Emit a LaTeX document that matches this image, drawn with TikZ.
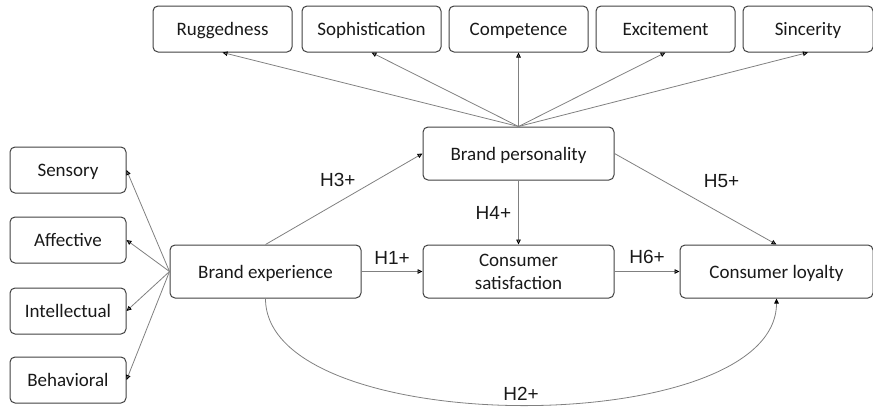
\documentclass[tikz,border=0pt]{standalone}
\usepackage{fontspec}
\setmainfont{Carlito}
\newfontfamily\hypfont{Liberation Sans}
\usetikzlibrary{positioning}
\usetikzlibrary{arrows.meta}

\begin{document}
\begin{tikzpicture}[x=1pt,y=1pt,>={Triangle[length=5pt,width=4.5pt,color=black]},
	node distance=64pt,
	box/.style={rectangle,rounded corners=5pt,draw=black!75,line width=1pt,
		minimum width=191pt,minimum height=53pt,align=center,text=black!90,
		font=\fontsize{19}{23}\selectfont},
	main node/.style={box,text height=17pt,text depth=4pt},
	dim node/.style={main node,minimum width=139pt,minimum height=46pt},
	exp node/.style={main node,minimum width=116pt,minimum height=46pt},
	hyp/.style={font=\hypfont\fontsize{19}{22}\selectfont,inner sep=2pt,text=black!90},
	link/.style={->,black!50,line width=0.8pt}]

	\useasboundingbox (0,0) rectangle (873,-407);

	% structural model
	\node[box] (cs) at (518.5,-271.5) {Consumer\\satisfaction};
	\node[main node] (be) [left=61pt of cs] {Brand experience};
	\node[main node] (cl) [right=65pt of cs, minimum width=193pt] {Consumer loyalty};
	\node[main node] (bp) [above=64pt of cs] {Brand personality};

	% personality dimensions
	\node[dim node] (competence) [above=74pt of bp] {Competence};
	\node[dim node] (sophist) [left=7pt of competence] {Sophistication};
	\node[dim node] (rugged) [left=9pt of sophist] {Ruggedness};
	\node[dim node] (excite) [right=7pt of competence] {Excitement};
	\node[dim node] (sincere) [right=7pt of excite, minimum width=130pt] {Sincerity};

	% experience dimensions
	\node[exp node] (affective) [above left=8pt and 43pt of be.west] {Affective};
	\node[exp node] (sensory) [above=23pt of affective] {Sensory};
	\node[exp node] (intellect) [below=24pt of affective] {Intellectual};
	\node[exp node] (behave) [below=22pt of intellect] {Behavioral};

	\path[link]
	(bp.north) edge (rugged.south)
	(bp.north) edge (sophist.south)
	(bp.north) edge (competence.south)
	(bp.north) edge (excite.south)
	(bp.north) edge (sincere.south);

	\path[link]
	(be.west) edge (sensory.east)
	(be.west) edge (affective.east)
	(be.west) edge (intellect.east)
	(be.west) edge (behave.east);

	\path[link]
	(be) edge node[hyp, above=5pt] {H1+} (cs)
	(cs) edge node[hyp, above=5pt] {H6+} (cl)
	(bp) edge node[hyp, left=5pt] {H4+} (cs)
	(be.north) edge node[hyp, pos=0.46, above=14pt] {H3+} (bp.west)
	(bp.east) edge node[hyp, above right=9pt and 6pt] {H5+} (cl.north);

	\draw[link] (be.south) .. controls +(0,-142) and +(0,-142) ..
		node[hyp, midway, above=2pt] {H2+} (cl.south);
\end{tikzpicture}
\end{document}
